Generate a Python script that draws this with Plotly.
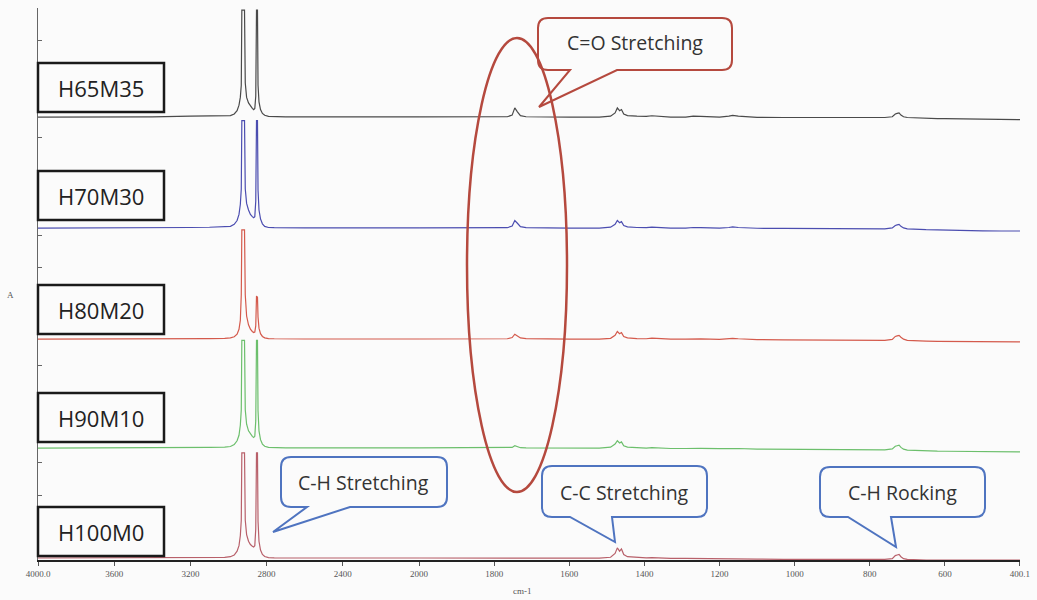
import plotly.graph_objects as go

# ---------------- data ----------------
WAVENUMBERS = [
    4000, 3700, 3400, 3200, 3100, 3020, 2990, 2970, 2955, 2945,
    2938, 2933, 2930, 2922, 2916, 2912, 2905, 2895, 2885, 2875,
    2868, 2862, 2857, 2853, 2848, 2845, 2840, 2832, 2822, 2810,
    2790, 2760, 2700, 2600, 2400, 2200, 2000, 1900, 1800, 1765,
    1752, 1745, 1738, 1730, 1715, 1680, 1600, 1520, 1490, 1478,
    1472, 1466, 1461, 1455, 1445, 1420, 1395, 1380, 1372, 1360,
    1330, 1290, 1270, 1250, 1200, 1175, 1165, 1150, 1100, 1030,
    960, 900, 850, 800, 760, 740, 732, 727, 722, 717,
    710, 700, 680, 650, 620, 600, 560, 500, 450, 400]

SAMPLES = ["H65M35", "H70M30", "H80M20", "H90M10", "H100M0"]
OFFSETS = [4, 3, 2, 1, 0]

A_H65M35 = [
    0.012, 0.012, 0.013, 0.02, 0.02, 0.02, 0.025, 0.04, 0.07, 0.12,
    0.19, 0.30, 0.98, 0.98, 0.98, 0.32, 0.19, 0.14, 0.11, 0.09,
    0.08, 0.09, 0.20, 0.98, 0.98, 0.30, 0.15, 0.08, 0.045, 0.028,
    0.018, 0.015, 0.013, 0.013, 0.013, 0.013, 0.013, 0.013, 0.013, 0.015,
    0.03, 0.095, 0.06, 0.025, 0.015, 0.013, 0.012, 0.012, 0.02, 0.05,
    0.095, 0.07, 0.08, 0.04, 0.025, 0.02, 0.018, 0.024, 0.022, 0.015,
    0.012, 0.012, 0.02, 0.018, 0.012, 0.02, 0.028, 0.02, 0.01, 0.008,
    0.008, 0.006, 0.005, 0.005, 0.008, 0.015, 0.04, 0.045, 0.05, 0.03,
    0.015, 0.008, 0.004, 0.0, -0.002, -0.002, -0.005, -0.01, -0.012, -0.012]

A_H70M30 = [
    0.007, 0.007, 0.008, 0.012, 0.014, 0.016, 0.022, 0.04, 0.075, 0.13,
    0.22, 0.36, 0.98, 0.98, 0.98, 0.36, 0.23, 0.17, 0.13, 0.11,
    0.10, 0.11, 0.25, 0.98, 0.98, 0.35, 0.17, 0.09, 0.045, 0.022,
    0.012, 0.01, 0.008, 0.008, 0.008, 0.008, 0.008, 0.008, 0.008, 0.01,
    0.025, 0.075, 0.05, 0.02, 0.01, 0.008, 0.007, 0.007, 0.015, 0.04,
    0.075, 0.055, 0.065, 0.03, 0.018, 0.012, 0.01, 0.016, 0.014, 0.01,
    0.007, 0.007, 0.012, 0.01, 0.006, 0.012, 0.018, 0.012, 0.005, 0.003,
    0.002, 0.0, -0.002, -0.003, 0.0, 0.008, 0.03, 0.035, 0.04, 0.022,
    0.008, 0.0, -0.005, -0.008, -0.01, -0.012, -0.015, -0.018, -0.02, -0.02]

A_H80M20 = [
    0.0, 0.0, 0.0, 0.004, 0.006, 0.008, 0.012, 0.022, 0.045, 0.09,
    0.17, 0.40, 0.99, 0.99, 0.99, 0.40, 0.21, 0.13, 0.09, 0.07,
    0.06, 0.065, 0.12, 0.39, 0.38, 0.2, 0.1, 0.05, 0.025, 0.012,
    0.006, 0.004, 0.002, 0.002, 0.002, 0.002, 0.002, 0.002, 0.002, 0.004,
    0.015, 0.045, 0.03, 0.012, 0.005, 0.002, 0.0, 0.0, 0.008, 0.035,
    0.07, 0.05, 0.06, 0.025, 0.012, 0.006, 0.004, 0.01, 0.008, 0.004,
    0.0, 0.0, 0.004, 0.003, -0.002, 0.004, 0.008, 0.004, -0.004, -0.006,
    -0.008, -0.01, -0.011, -0.012, -0.01, -0.002, 0.025, 0.03, 0.035, 0.018,
    0.0, -0.01, -0.014, -0.017, -0.019, -0.02, -0.022, -0.024, -0.025, -0.025]

A_H90M10 = [
    0.014, 0.014, 0.015, 0.018, 0.02, 0.022, 0.028, 0.045, 0.08, 0.13,
    0.22, 0.36, 0.99, 0.99, 0.99, 0.36, 0.23, 0.17, 0.14, 0.12,
    0.11, 0.12, 0.26, 0.99, 0.99, 0.35, 0.17, 0.09, 0.05, 0.03,
    0.02, 0.017, 0.015, 0.015, 0.015, 0.015, 0.015, 0.015, 0.015, 0.016,
    0.02, 0.035, 0.025, 0.017, 0.015, 0.015, 0.014, 0.014, 0.022, 0.05,
    0.08, 0.06, 0.07, 0.035, 0.022, 0.016, 0.014, 0.018, 0.016, 0.012,
    0.01, 0.01, 0.012, 0.011, 0.008, 0.01, 0.014, 0.01, 0.004, 0.002,
    0.0, -0.002, -0.004, -0.005, -0.002, 0.006, 0.03, 0.035, 0.04, 0.02,
    0.004, -0.004, -0.008, -0.012, -0.014, -0.015, -0.017, -0.02, -0.02, -0.02]

A_H100M0 = [
    0.018, 0.018, 0.018, 0.02, 0.022, 0.024, 0.03, 0.045, 0.08, 0.13,
    0.22, 0.36, 0.97, 0.97, 0.97, 0.36, 0.23, 0.17, 0.14, 0.125,
    0.118, 0.13, 0.28, 0.97, 0.97, 0.35, 0.17, 0.09, 0.05, 0.032,
    0.022, 0.02, 0.018, 0.018, 0.018, 0.018, 0.018, 0.018, 0.018, 0.018,
    0.018, 0.018, 0.018, 0.018, 0.018, 0.018, 0.017, 0.017, 0.025, 0.06,
    0.11, 0.08, 0.1, 0.05, 0.03, 0.022, 0.02, 0.022, 0.02, 0.017,
    0.015, 0.014, 0.014, 0.013, 0.012, 0.012, 0.013, 0.011, 0.008, 0.006,
    0.005, 0.004, 0.003, 0.003, 0.006, 0.012, 0.04, 0.045, 0.05, 0.03,
    0.012, 0.005, 0.002, 0.0, 0.0, 0.0, 0.0, 0.0, 0.0, 0.0]

SERIES = [A_H65M35, A_H70M30, A_H80M20, A_H90M10, A_H100M0]
COLORS = ["#4a4a4a", "#4b4db0", "#d45a4c", "#6cbf6c", "#b8606a"]

HIGH_TICKS = [4000, 3600, 3200, 2800, 2400, 2000]
HIGH_TICKTEXT = ["4000.0", "3600", "3200", "2800", "2400", "2000"]
LOW_TICKS = [1800, 1600, 1400, 1200, 1000, 800, 600, 400]
LOW_TICKTEXT = ["1800", "1600", "1400", "1200", "1000", "800", "600", "400.1"]

CALLOUTS = ["C=O Stretching", "C-H Stretching", "C-C Stretching", "C-H Rocking"]

# ---------------- layout helpers (pixel -> paper) ----------------
W, H = 1037, 600
L, R, T, B = 38, 17, 8, 40
PW, PH = W - L - R, H - T - B
SPLIT = 0.388


def X(px):
    return (px - L) / PW


def Y(py):
    return (H - B - py) / PH


fig = go.Figure()

for name, vals, off, col in zip(SAMPLES, SERIES, OFFSETS, COLORS):
    assert len(vals) == len(WAVENUMBERS)
    hx = [w for w in WAVENUMBERS if w >= 2000]
    hy = [v + off for w, v in zip(WAVENUMBERS, vals) if w >= 2000]
    lx = [w for w in WAVENUMBERS if w <= 2000]
    ly = [v + off for w, v in zip(WAVENUMBERS, vals) if w <= 2000]
    fig.add_trace(go.Scatter(x=hx, y=hy, mode="lines", name=name, xaxis="x", yaxis="y",
                             line=dict(color=col, width=1.2), showlegend=False))
    fig.add_trace(go.Scatter(x=lx, y=ly, mode="lines", name=name, xaxis="x2", yaxis="y",
                             line=dict(color=col, width=1.2), showlegend=False))

tickfont = dict(family="Liberation Serif", size=9, color="#555555")

fig.update_layout(
    width=W, height=H,
    margin=dict(l=L, r=R, t=T, b=B),
    paper_bgcolor="#fbfbfb",
    plot_bgcolor="#fbfbfb",
    xaxis=dict(domain=[0, SPLIT], range=[4000, 2000], tickvals=HIGH_TICKS,
               ticktext=HIGH_TICKTEXT, showgrid=False, zeroline=False,
               showline=True, linecolor="#222222", linewidth=2,
               ticks="outside", ticklen=4, tickcolor="#555555",
               tickfont=tickfont, anchor="y"),
    xaxis2=dict(domain=[SPLIT, 1], range=[2000, 400], tickvals=LOW_TICKS,
                ticktext=LOW_TICKTEXT, showgrid=False, zeroline=False,
                showline=True, linecolor="#222222", linewidth=2,
                ticks="outside", ticklen=4, tickcolor="#555555",
                tickfont=tickfont, anchor="y"),
    yaxis=dict(range=[0, 5], showgrid=False, zeroline=False, showline=True,
               linecolor="#666666", linewidth=1, ticks="inside", ticklen=4,
               tickcolor="#666666", tick0=0, dtick=5 / 17, showticklabels=False),
)

shapes = []
annotations = []

# sample label boxes
BOXES = [(63, 112), (171, 220), (285, 334), (393, 442), (507, 556)]
for name, (y0, y1) in zip(SAMPLES, BOXES):
    shapes.append(dict(type="rect", xref="paper", yref="paper",
                       x0=X(38), x1=X(164), y0=Y(y1), y1=Y(y0),
                       line=dict(color="#1a1a1a", width=2.5), fillcolor="#fbfbfb"))
    annotations.append(dict(xref="paper", yref="paper", x=X(101), y=Y((y0 + y1) / 2),
                            text=name, showarrow=False, xanchor="center", yanchor="middle",
                            font=dict(family="Open Sans", size=22, color="#222222")))

# ellipse around C=O band
shapes.append(dict(type="circle", xref="paper", yref="paper",
                   x0=X(467), x1=X(567), y0=Y(492), y1=Y(38),
                   line=dict(color="#b5493e", width=2.5)))


def bubble(x0, y0, x1, y1, tail_a, tail_b, tip, r=10):
    p = [
        f"M {X(x0 + r)},{Y(y0)}", f"L {X(x1 - r)},{Y(y0)}",
        f"Q {X(x1)},{Y(y0)} {X(x1)},{Y(y0 + r)}", f"L {X(x1)},{Y(y1 - r)}",
        f"Q {X(x1)},{Y(y1)} {X(x1 - r)},{Y(y1)}", f"L {X(tail_b)},{Y(y1)}",
        f"L {X(tip[0])},{Y(tip[1])}", f"L {X(tail_a)},{Y(y1)}",
        f"L {X(x0 + r)},{Y(y1)}", f"Q {X(x0)},{Y(y1)} {X(x0)},{Y(y1 - r)}",
        f"L {X(x0)},{Y(y0 + r)}", f"Q {X(x0)},{Y(y0)} {X(x0 + r)},{Y(y0)}", "Z"]
    return " ".join(p)


BUBBLES = [
    # text, rect, tail_a, tail_b, tip, color, text center
    (CALLOUTS[0], (538, 18, 732, 70), 570, 617, (539, 107), "#b5493e", (635, 43)),
    (CALLOUTS[1], (281, 457, 447, 507), 307, 350, (273, 532), "#4f74c0", (363, 482)),
    (CALLOUTS[2], (542, 466, 707, 517), 570, 612, (615, 542), "#4f74c0", (624, 492)),
    (CALLOUTS[3], (820, 467, 985, 517), 848, 891, (896, 547), "#4f74c0", (902, 492)),
]
for text, (bx0, by0, bx1, by1), ta, tb, tip, col, (tx, ty) in BUBBLES:
    shapes.append(dict(type="path", xref="paper", yref="paper",
                       path=bubble(bx0, by0, bx1, by1, ta, tb, tip),
                       line=dict(color=col, width=2)))
    annotations.append(dict(xref="paper", yref="paper", x=X(tx), y=Y(ty), text=text,
                            showarrow=False, xanchor="center", yanchor="middle",
                            font=dict(family="Open Sans", size=19.5, color="#333333")))

annotations.append(dict(xref="paper", yref="paper", x=X(10), y=Y(295), text="A",
                        showarrow=False, xanchor="center", yanchor="middle",
                        font=dict(family="Liberation Serif", size=9, color="#555555")))
annotations.append(dict(xref="paper", yref="paper", x=X(522), y=Y(591), text="cm-1",
                        showarrow=False, xanchor="center", yanchor="middle",
                        font=dict(family="Liberation Serif", size=9, color="#555555")))

fig.update_layout(shapes=shapes, annotations=annotations)
fig.write_html("out.html")
